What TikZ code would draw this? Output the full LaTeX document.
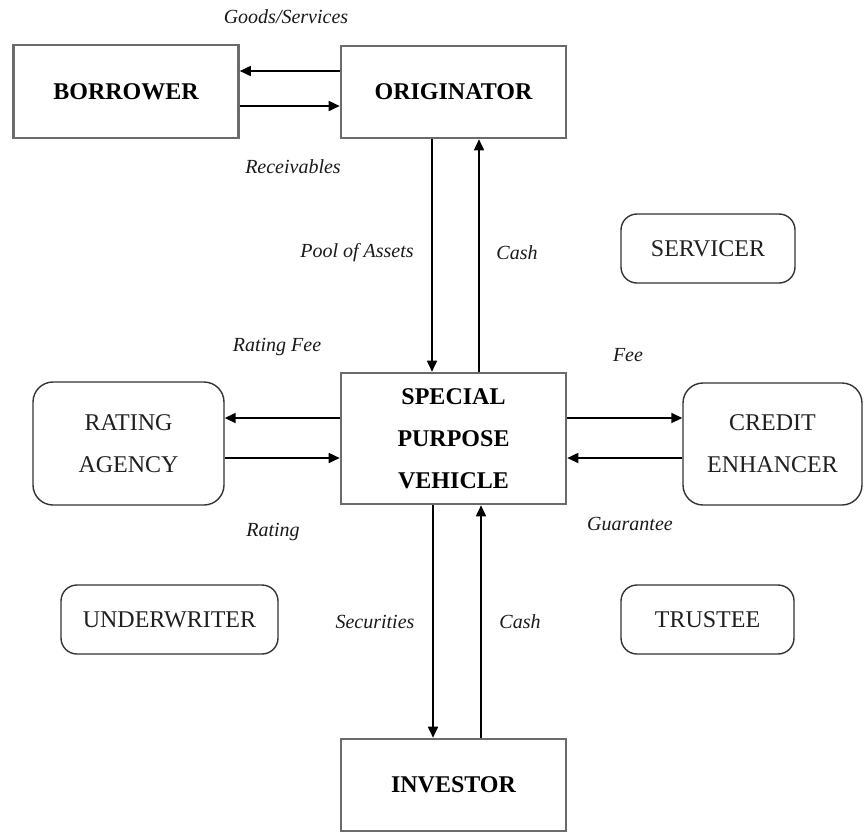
\documentclass[tikz,border=0pt]{standalone}
\usepackage{fontspec}
\setmainfont{Liberation Serif}
\usetikzlibrary{arrows.meta}
\begin{document}
\begin{tikzpicture}[x=1pt,y=-1pt,
  mainbox/.style={draw=black!58, line width=2.6pt, rectangle, inner sep=0pt,
    font=\fontsize{24}{42}\selectfont\bfseries, align=center},
  softbox/.style={draw=black!80, line width=1.4pt, rectangle, rounded corners=16pt,
    inner sep=0pt, font=\fontsize{24}{42}\selectfont, align=center, text=black!88},
  lbl/.style={font=\fontsize{20}{24}\selectfont\itshape, inner sep=0pt, text=black!90},
  arr/.style={line width=1.7pt, -{Triangle[length=11pt,width=10pt]}}
]
\useasboundingbox (0,0) rectangle (864,831);
\node[mainbox, minimum width=225pt, minimum height=93pt] (borrower) at (126,91.5) {BORROWER};
\node[mainbox, minimum width=225pt, minimum height=92pt] (originator) at (453.5,92) {ORIGINATOR};
\node[mainbox, minimum width=225pt, minimum height=131pt] (spv) at (453.5,438.5) {SPECIAL\\PURPOSE\\VEHICLE};
\node[mainbox, minimum width=225pt, minimum height=92pt] (investor) at (453.5,785) {INVESTOR};
\node[softbox, rounded corners=20pt, minimum width=191pt, minimum height=123pt] (rating) at (128.5,443.5) {RATING\\AGENCY};
\node[softbox, rounded corners=20pt, minimum width=179pt, minimum height=122pt] (enhancer) at (772.5,444) {CREDIT\\ENHANCER};
\node[softbox, minimum width=174pt, minimum height=69pt] (servicer) at (708,248.5) {SERVICER};
\node[softbox, minimum width=217pt, minimum height=69pt] (underwriter) at (169.5,619.5) {UNDERWRITER};
\node[softbox, minimum width=173pt, minimum height=69pt] (trustee) at (707.5,619.5) {TRUSTEE};

\draw[arr] (originator.west |- 0,71) -- (borrower.east |- 0,71);
\draw[arr] (borrower.east |- 0,106) -- (originator.west |- 0,106);
\draw[arr] (originator.south -| 432,0) -- (spv.north -| 432,0);
\draw[arr] (spv.north -| 479,0) -- (originator.south -| 479,0);
\draw[arr] (spv.south -| 433,0) -- (investor.north -| 433,0);
\draw[arr] (investor.north -| 481,0) -- (spv.south -| 481,0);
\draw[arr] (spv.west |- 0,418) -- (rating.east |- 0,418);
\draw[arr] (rating.east |- 0,458) -- (spv.west |- 0,458);
\draw[arr] (spv.east |- 0,418) -- (enhancer.west |- 0,418);
\draw[arr] (enhancer.west |- 0,458) -- (spv.east |- 0,458);

\node[lbl] (l1) at (286,17) {Goods/Services};
\node[lbl] (l2) at (293,167) {Receivables};
\node[lbl] (l3) at (357,253) {Pool of Assets};
\node[lbl] (l4) at (517,253) {Cash};
\node[lbl] (l5) at (277,347) {Rating Fee};
\node[lbl] (l6) at (628,355) {Fee};
\node[lbl] (l7) at (273,532) {Rating};
\node[lbl] (l8) at (630,524) {Guarantee};
\node[lbl] (l9) at (375,622) {Securities};
\node[lbl] (l10) at (520,622) {Cash};
\end{tikzpicture}
\end{document}
